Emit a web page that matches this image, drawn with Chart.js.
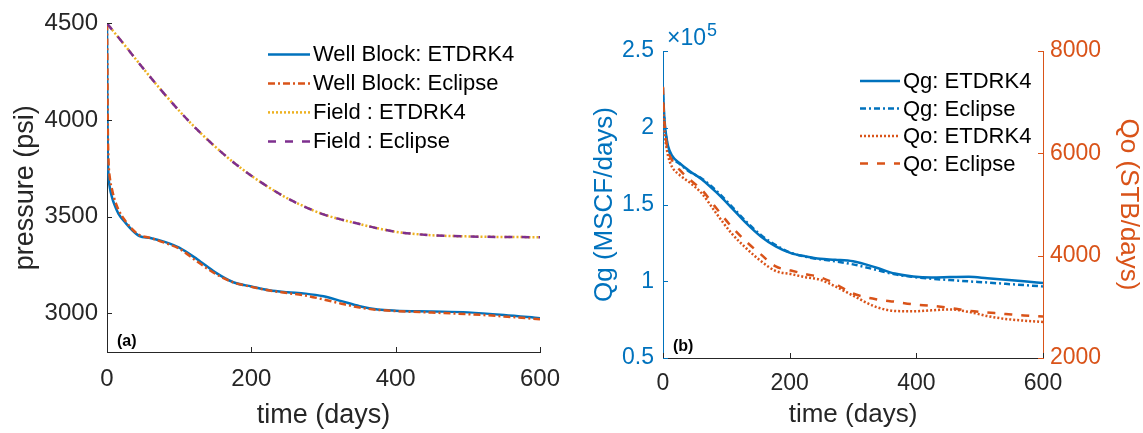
<!DOCTYPE html>
<html><head><meta charset="utf-8">
<script src="https://cdn.jsdelivr.net/npm/chart.js@4.4.0/dist/chart.umd.min.js"></script>
<style>
html,body{margin:0;padding:0;background:#fff;width:1143px;height:433px;overflow:hidden}
#ca{position:absolute;left:0;top:0}
#cb{position:absolute;left:560px;top:0}
</style></head><body>
<canvas id="ca" width="560" height="433"></canvas>
<canvas id="cb" width="583" height="433"></canvas>
<script>
// ---------- data ----------
const wellTime     = [0, 0.5, 1, 2, 4, 7, 10, 16, 26, 35, 45, 60, 80, 100, 125, 150, 175, 200, 225, 250, 275, 300, 325, 350, 375, 400, 450, 500, 550, 600];
const wellETDRK4   = [4500, 4100, 3850, 3720, 3650, 3600, 3565, 3515, 3467, 3430, 3400, 3390, 3370, 3340, 3280, 3212, 3161, 3139, 3119, 3109, 3102, 3088, 3063, 3037, 3020, 3014, 3010, 3005, 2992, 2975];
const wellEclipse  = [4500, 4300, 4000, 3800, 3700, 3640, 3595, 3535, 3475, 3435, 3405, 3390, 3365, 3335, 3268, 3205, 3160, 3137, 3118, 3105, 3092, 3072, 3050, 3030, 3018, 3012, 3004, 2996, 2984, 2970];
const fieldTime    = [0, 25, 50, 75, 100, 125, 150, 175, 200, 225, 250, 275, 300, 325, 350, 375, 400, 450, 500, 550, 600];
const fieldETDRK4  = [4500, 4385, 4268, 4155, 4048, 3950, 3862, 3782, 3712, 3650, 3595, 3550, 3512, 3485, 3462, 3440, 3422, 3404, 3398, 3395, 3394];
const fieldEclipse = [4500, 4385, 4268, 4155, 4048, 3950, 3862, 3782, 3712, 3650, 3595, 3550, 3512, 3485, 3462, 3440, 3422, 3404, 3398, 3395, 3394];

const rateTime  = [0, 1, 3, 5, 8, 14, 26, 43, 61, 84, 108, 131, 155, 178, 202, 225, 248, 272, 300, 336, 366, 395, 424, 453, 483, 512, 541, 570, 600];
const qgETDRK4  = [226000, 215000, 202000, 195000, 188000, 182000, 177000, 171500, 166500, 158000, 148000, 138000, 129000, 122700, 118300, 116200, 114600, 114000, 113000, 109000, 105000, 103100, 102500, 102700, 102900, 102000, 101000, 100000, 98800];
const qgEclipse = [222000, 212000, 200000, 194000, 187000, 181000, 176500, 171000, 167000, 159000, 149000, 139000, 130000, 123500, 118500, 116000, 114300, 113000, 111000, 107500, 104500, 102800, 101600, 100800, 99900, 99200, 98300, 97500, 96600];
const qoETDRK4  = [7000, 6700, 6350, 6150, 5950, 5740, 5580, 5420, 5220, 4830, 4440, 4150, 3890, 3700, 3640, 3580, 3530, 3400, 3220, 3000, 2920, 2912, 2932, 2950, 2900, 2820, 2763, 2730, 2704];
const qoEclipse = [7300, 6900, 6500, 6250, 6050, 5870, 5680, 5480, 5290, 4930, 4570, 4280, 4020, 3790, 3710, 3640, 3580, 3450, 3260, 3150, 3100, 3050, 3020, 2980, 2920, 2890, 2860, 2830, 2810];

const timeTicks     = [0, 200, 400, 600];
const pressureTicks = [3000, 3500, 4000, 4500];
const qgTicks       = [50000, 100000, 150000, 200000, 250000];
const qoTicks       = [2000, 4000, 6000, 8000];

// ---------- helpers ----------
const FONT = "'Liberation Sans', Arial, Helvetica, sans-serif";
Chart.defaults.font.family = FONT;
const BLUE = '#0072BD', ORANGE = '#D95319', YELLOW = '#EDB120', PURPLE = '#7E2F8E', AX = '#262626';

const pts = (xs, ys) => xs.map((x, i) => ({x: x, y: ys[i]}));
const setTicks = arr => s => { s.ticks = arr.map(v => ({value: v})); };
const fitW = w => s => { s.width = w; };
const fitH = h => s => { s.height = h; s.paddingLeft = 0; s.paddingRight = 0; };
const plain = v => String(v);

const inwardTicks = {
  id: 'inwardTicks',
  afterDraw(chart) {
    const ctx = chart.ctx, a = chart.chartArea;
    ctx.save();
    ctx.lineWidth = 1;
    for (const id in chart.scales) {
      const s = chart.scales[id];
      ctx.strokeStyle = s.options.border.color;
      ctx.beginPath();
      for (const t of s.ticks) {
        const p = Math.round(s.getPixelForValue(t.value)) + 0.5;
        if (s.isHorizontal()) { ctx.moveTo(p, a.bottom); ctx.lineTo(p, a.bottom - 5); }
        else if (s.position === 'left') { ctx.moveTo(a.left, p); ctx.lineTo(a.left + 5, p); }
        else { ctx.moveTo(a.right, p); ctx.lineTo(a.right - 5, p); }
      }
      ctx.stroke();
    }
    ctx.restore();
  }
};

const lineLegend = {
  id: 'lineLegend',
  afterDatasetsDraw(chart, args, o) {
    const ctx = chart.ctx, a = chart.chartArea;
    ctx.save();
    ctx.font = o.font;
    ctx.textBaseline = 'middle';
    ctx.fillStyle = '#000';
    chart.data.datasets.forEach((ds, i) => {
      const y = a.top + o.top + i * o.dy;
      const x0 = a.left + o.left;
      ctx.strokeStyle = ds.borderColor;
      ctx.lineWidth = ds.borderWidth;
      ctx.setLineDash(ds.borderDash || []);
      ctx.beginPath(); ctx.moveTo(x0, y); ctx.lineTo(x0 + o.len, y); ctx.stroke();
      ctx.setLineDash([]);
      ctx.fillText(ds.label, x0 + o.len + 3, y + 1);
    });
    ctx.restore();
  }
};

const annot = {
  id: 'annot',
  afterDraw(chart, args, o) {
    const ctx = chart.ctx, a = chart.chartArea;
    ctx.save();
    ctx.fillStyle = '#000';
    ctx.font = 'bold 16px ' + FONT;
    ctx.textBaseline = 'middle';
    ctx.fillText(o.panel, a.left + 10, a.bottom - o.panelDy);
    if (o.exp) {
      ctx.fillStyle = BLUE;
      ctx.textBaseline = 'alphabetic';
      ctx.font = '23px ' + FONT;
      const x = a.left + 4, y = a.top - 6;
      ctx.fillText('\u00d710', x, y);
      const w = ctx.measureText('\u00d710').width;
      ctx.font = '18px ' + FONT;
      ctx.fillText('5', x + w + 1, y - 9);
    }
    ctx.restore();
  }
};

function baseDs(label, data, color, dash, order, axis) {
  const d = {label, data, borderColor: color, backgroundColor: color, borderWidth: 2.5,
    borderDash: dash, pointRadius: 0, fill: false, cubicInterpolationMode: 'monotone', order};
  if (axis) d.yAxisID = axis;
  return d;
}

// ---------- panel (a) ----------
new Chart(document.getElementById('ca'), {
  type: 'line',
  data: {
    datasets: [
      baseDs('Well Block: ETDRK4', pts(wellTime, wellETDRK4), BLUE, [], 3),
      baseDs('Well Block: Eclipse', pts(wellTime, wellEclipse), ORANGE, [7, 3, 2, 3], 2),
      baseDs('Field : ETDRK4', pts(fieldTime, fieldETDRK4), YELLOW, [2, 2], 1),
      baseDs('Field : Eclipse', pts(fieldTime, fieldEclipse), PURPLE, [8, 9], 0)
    ]
  },
  options: {
    responsive: false, animation: false, devicePixelRatio: 1,
    layout: {padding: {top: 19, right: 20, left: 0, bottom: 0}},
    plugins: {
      legend: {display: false}, tooltip: {enabled: false},
      lineLegend: {font: '22px ' + FONT, left: 161, top: 31, dy: 29, len: 42},
      annot: {panel: '(a)', panelDy: 10}
    },
    scales: {
      x: {
        type: 'linear', min: 0, max: 600,
        afterBuildTicks: setTicks(timeTicks), afterFit: fitH(81),
        grid: {display: false, drawTicks: false},
        border: {display: true, color: AX, width: 1},
        ticks: {color: AX, font: {size: 24}, padding: 13, maxRotation: 0, callback: plain},
        title: {display: true, text: 'time (days)', color: AX, font: {size: 27, lineHeight: 1}, padding: {top: 0, bottom: 4}}
      },
      y: {
        type: 'linear', min: 2800, max: 4500,
        afterBuildTicks: setTicks(pressureTicks), afterFit: fitW(107),
        grid: {display: false, drawTicks: false},
        border: {display: true, color: AX, width: 1},
        ticks: {color: AX, font: {size: 24}, padding: 9, callback: plain},
        title: {display: true, text: 'pressure (psi)', color: AX, font: {size: 27, lineHeight: 1}, padding: {top: 12, bottom: 0}}
      }
    }
  },
  plugins: [inwardTicks, lineLegend, annot]
});

// ---------- panel (b) ----------
new Chart(document.getElementById('cb'), {
  type: 'line',
  data: {
    datasets: [
      baseDs('Qg: ETDRK4', pts(rateTime, qgETDRK4), BLUE, [], 3, 'y'),
      baseDs('Qg: Eclipse', pts(rateTime, qgEclipse), BLUE, [6, 3, 2, 3], 2, 'y'),
      baseDs('Qo: ETDRK4', pts(rateTime, qoETDRK4), ORANGE, [2, 2], 1, 'y1'),
      baseDs('Qo: Eclipse', pts(rateTime, qoEclipse), ORANGE, [8, 9], 0, 'y1')
    ]
  },
  options: {
    responsive: false, animation: false, devicePixelRatio: 1,
    layout: {padding: {top: 51, right: 0, left: 0, bottom: 0}},
    plugins: {
      legend: {display: false}, tooltip: {enabled: false},
      lineLegend: {font: '22px ' + FONT, left: 197, top: 30, dy: 27.5, len: 40},
      annot: {panel: '(b)', panelDy: 11, exp: true}
    },
    scales: {
      x: {
        type: 'linear', min: 0, max: 600,
        afterBuildTicks: setTicks(timeTicks), afterFit: fitH(75),
        grid: {display: false, drawTicks: false},
        border: {display: true, color: AX, width: 1},
        ticks: {color: AX, font: {size: 23}, padding: 12, maxRotation: 0, callback: plain},
        title: {display: true, text: 'time (days)', color: AX, font: {size: 26, lineHeight: 1}, padding: {top: 0, bottom: 5}}
      },
      y: {
        type: 'linear', position: 'left', min: 50000, max: 250000,
        afterBuildTicks: setTicks(qgTicks), afterFit: fitW(103),
        grid: {display: false, drawTicks: false},
        border: {display: true, color: BLUE, width: 1},
        ticks: {color: BLUE, font: {size: 23}, padding: 9, callback: v => String(v / 1e5)},
        title: {display: true, text: 'Qg (MSCF/days)', color: BLUE, font: {size: 26, lineHeight: 1}, padding: {top: 32, bottom: 0}}
      },
      y1: {
        type: 'linear', position: 'right', min: 2000, max: 8000,
        afterBuildTicks: setTicks(qoTicks), afterFit: fitW(100),
        grid: {display: false, drawTicks: false},
        border: {display: true, color: ORANGE, width: 1},
        ticks: {color: ORANGE, font: {size: 23}, padding: 7, callback: plain},
        title: {display: true, text: 'Qo (STB/days)', color: ORANGE, font: {size: 26, lineHeight: 1}, padding: {top: 2, bottom: 0}}
      }
    }
  },
  plugins: [inwardTicks, lineLegend, annot]
});
</script>
</body></html>
